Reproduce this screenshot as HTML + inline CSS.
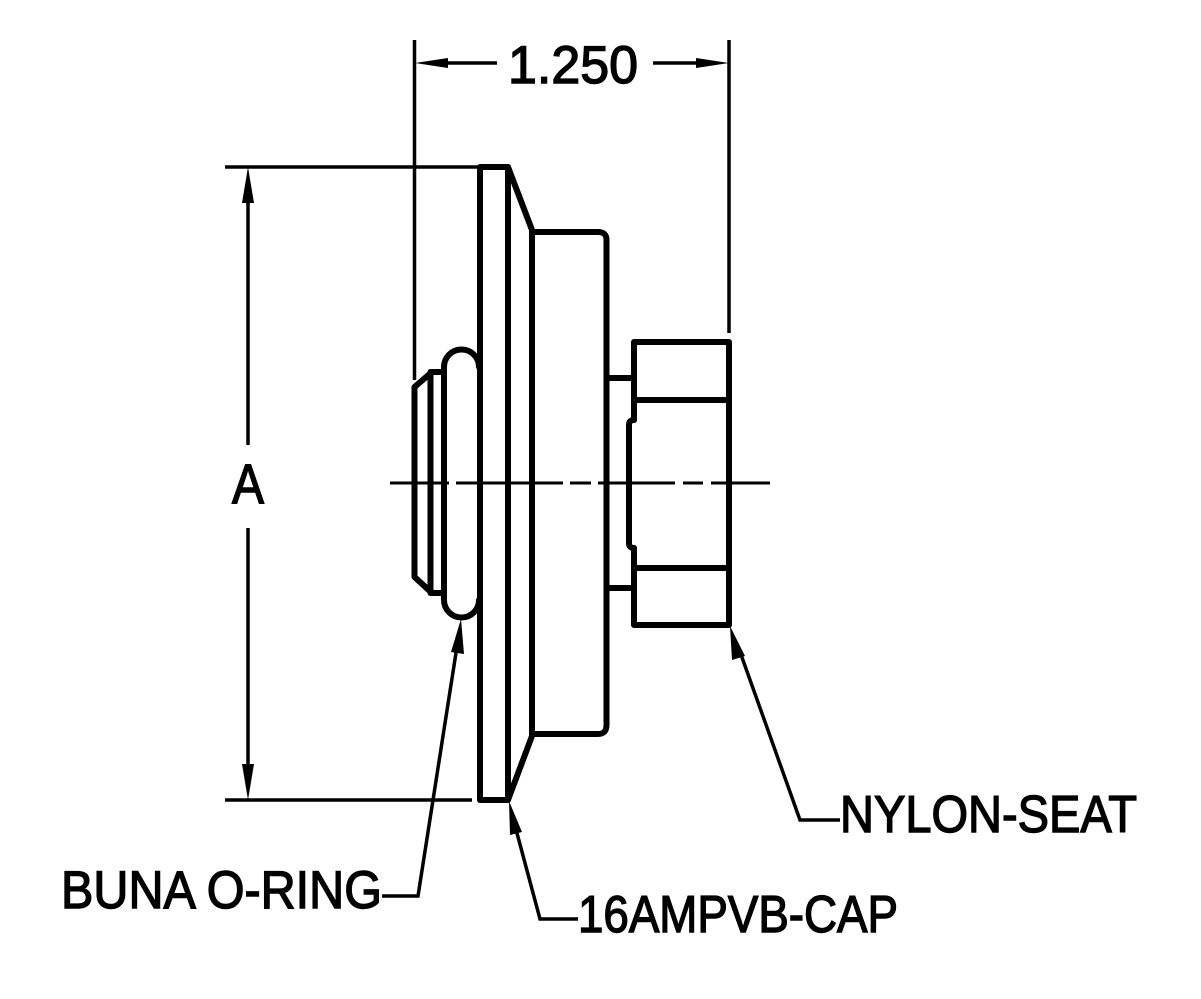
<!DOCTYPE html>
<html>
<head>
<meta charset="utf-8">
<style>
html,body{margin:0;padding:0;background:#fff;}
svg{display:block;}
text{font-family:"Liberation Sans",sans-serif;fill:#000;stroke:#000;stroke-width:1.4px;}
</style>
</head>
<body>
<svg width="1201" height="999" viewBox="0 0 1201 999" xmlns="http://www.w3.org/2000/svg">
<rect width="1201" height="999" fill="#fff"/>

<!-- thin dimension / extension lines -->
<g stroke="#000" stroke-width="3.5" fill="none" stroke-linecap="butt">
  <line x1="414.5" y1="40" x2="414.5" y2="380"/>
  <line x1="729" y1="40" x2="729" y2="333"/>
  <line x1="440" y1="63" x2="497" y2="63"/>
  <line x1="653" y1="63" x2="705" y2="63"/>
  <line x1="225" y1="167" x2="478" y2="167"/>
  <line x1="225" y1="800" x2="472" y2="800"/>
  <line x1="248" y1="190" x2="248" y2="445"/>
  <line x1="248" y1="528" x2="248" y2="778"/>
  <polyline points="382,896 418,896 458,640"/>
  <polyline points="578,919 540,919 514,822"/>
  <polyline points="840,820 800,820 739,649"/>
</g>

<!-- centerline -->
<g stroke="#000" stroke-width="3" fill="none">
  <line x1="390" y1="483" x2="449" y2="483"/>
  <line x1="456" y1="483" x2="563" y2="483"/>
  <line x1="570" y1="483" x2="591" y2="483"/>
  <line x1="598" y1="483" x2="675" y2="483"/>
  <line x1="683" y1="483" x2="703" y2="483"/>
  <line x1="711" y1="483" x2="770" y2="483"/>
</g>

<!-- arrowheads -->
<g fill="#000" stroke="none">
  <polygon points="415,63 448,58 448,68"/>
  <polygon points="729,63 696,58 696,68"/>
  <polygon points="248,167 242,203 254,203"/>
  <polygon points="248,800 242,764 254,764"/>
  <polygon points="461,619 451,652 464,654"/>
  <polygon points="509,801 510,835 522,832"/>
  <polygon points="730,626 732,660 745,656"/>
</g>

<!-- thick object lines -->
<g stroke="#000" stroke-width="6" fill="none" stroke-linejoin="round" stroke-linecap="round">
  <rect x="480" y="167" width="28" height="633"/>
  <polyline points="508,167 532,230 532,736 508,800"/>
  <path d="M532,232 L598,232 Q606.5,232 606.5,240 L606.5,725 Q606.5,734 598,734 L532,734"/>
  <line x1="606.5" y1="378" x2="633" y2="378"/>
  <line x1="606.5" y1="588" x2="633" y2="588"/>
  <path d="M634,420 L634,342 L729,342 L729,625 L634,625 L634,548"/>
  <path d="M634,420 Q629,420 629,425 L629,543 Q629,548 634,548"/>
  <line x1="634" y1="400" x2="729" y2="400"/>
  <line x1="634" y1="568" x2="729" y2="568"/>
  <path d="M479,367 A17.5,17.5 0 0 0 444,367 L444,600 A17.5,17.5 0 0 0 479,600"/>
  <polyline points="444,372 432,372 414.5,387 414.5,577 432,593 444,593"/>
  <line x1="430.5" y1="372" x2="430.5" y2="593"/>
</g>

<!-- text -->
<text x="508" y="83" font-size="53" textLength="130" lengthAdjust="spacingAndGlyphs">1.250</text>
<text x="232" y="503" font-size="56" textLength="32" lengthAdjust="spacingAndGlyphs">A</text>
<text x="61" y="908" font-size="53" textLength="321" lengthAdjust="spacingAndGlyphs">BUNA O-RING</text>
<text x="578" y="932" font-size="52" textLength="320" lengthAdjust="spacingAndGlyphs">16AMPVB-CAP</text>
<text x="840" y="832" font-size="52" textLength="297" lengthAdjust="spacingAndGlyphs">NYLON-SEAT</text>
</svg>
</body>
</html>
